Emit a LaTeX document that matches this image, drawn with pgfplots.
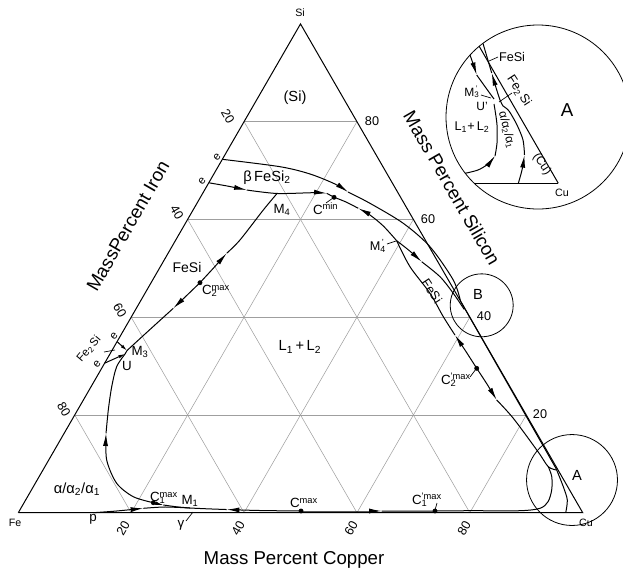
\documentclass[border=0pt]{standalone}
\usepackage{pgfplots}
\pgfplotsset{compat=1.18}
\usepackage{fontspec}
\setmainfont{Liberation Sans}
\usetikzlibrary{arrows.meta}
% ternary (mass % Cu = c, mass % Si = s) -> picture position
\pgfkeys{/pgfplots/table/tern/.style={/pgfplots/table/x expr=18.3+5.644*(\thisrow{c}+0.5*\thisrow{s}), /pgfplots/table/y expr=512.7-4.8878*\thisrow{s}}}
\tikzset{cur/.style={black, line width=0.75pt, smooth},
         arr/.style={cur, -{Latex[length=9.5pt,width=3.8pt]}},
         gridc/.style={gray!75, line width=0.4pt},
         lbl/.style={inner sep=0pt, outer sep=0pt}}
\newcommand{\fs}[1]{\fontsize{#1}{#1}\selectfont}
\newcommand{\sbp}[2]{\rlap{\textsuperscript{#2}}\textsubscript{#1}}
\newcommand{\gl}[4]{\addplot[gridc] table[row sep=\\,tern]{c s\\ #1 #2\\ #3 #4\\};}
\begin{document}
\begin{tikzpicture}
\begin{axis}[x=0.75pt, y=0.75pt, y dir=reverse, xmin=0, xmax=623, ymin=0, ymax=572,
  hide axis, clip=false]
% ---------- grid ----------
\gl{0}{20}{80}{20} \gl{0}{40}{60}{40} \gl{0}{60}{40}{60} \gl{0}{80}{20}{80}
\gl{20}{0}{20}{80} \gl{40}{0}{40}{60} \gl{60}{0}{60}{40} \gl{80}{0}{80}{20}
\gl{80}{0}{0}{80} \gl{60}{0}{0}{60} \gl{40}{0}{0}{40} \gl{20}{0}{0}{20}
% ---------- triangle ----------
\addplot[black, line width=0.75pt] table[row sep=\\,tern]{c s\\ 0 0\\ 100 0\\ 0 100\\ 0 0\\};
% ---------- upper e curve ----------
\addplot[arr] table[row sep=\\,tern]{c s\\ 0 72.3\\ 10.97 70.79\\ 17.03 69.30\\ 22.48 67.25\\ 25.61 65.61\\};
\addplot[cur] table[row sep=\\,tern]{c s\\ 25.61 65.61\\ 30.66 63.30\\ 38.60 59.21\\ 45.73 54.42\\ 53.26 47.61\\ 56.7 43.3\\};
\addplot[cur] table[row sep=\\,tern]{c s\\ 56.7 43.3\\ 91.0 8.8\\};
% ---------- lower e curve, M4, Cmin ----------
\addplot[arr] table[row sep=\\,tern]{c s\\ 0 67.5\\ 3.8 66.8\\ 7.46 66.02\\};
\addplot[arr] table[row sep=\\,tern]{c s\\ 7.46 66.02\\ 13.19 65.31\\ 19.53 65.47\\ 21.97 65.35\\};
\addplot[cur] table[row sep=\\,tern]{c s\\ 21.97 65.35\\ 23.68 64.53\\};
% M4' -> Cmin
\addplot[arr] table[row sep=\\,tern]{c s\\ 39.21 55.65\\ 35.34 58.66\\ 31.85 60.91\\ 29.10 62.28\\};
\addplot[cur] table[row sep=\\,tern]{c s\\ 29.10 62.28\\ 26.2 63.6\\ 23.68 64.53\\};
% M4' -> B
\addplot[arr] table[row sep=\\,tern]{c s\\ 39.21 55.65\\ 42.5 53.6\\ 45.79 51.35\\};
\addplot[cur] table[row sep=\\,tern]{c s\\ 45.79 51.35\\ 50.58 48.28\\ 54.62 44.89\\ 58.2 41.6\\};
% ---------- M4 - C2max - M3 ----------
\addplot[arr] table[row sep=\\,tern]{c s\\ 8.66 47.06\\ 9.6 50.2\\ 10.38 53.07\\};
\addplot[cur] table[row sep=\\,tern]{c s\\ 10.38 53.07\\ 11.38 55.80\\ 12.44 61.93\\ 13.19 65.31\\};
\addplot[arr] table[row sep=\\,tern]{c s\\ 8.66 47.06\\ 7.6 44.4\\ 6.55 41.82\\};
\addplot[cur] table[row sep=\\,tern]{c s\\ 6.55 41.82\\ 4.17 36.56\\ 2.67 33.18\\};
% Fe2Si e-lines
\addplot[cur, -{Latex[length=5pt,width=2.6pt]}] table[row sep=\\,tern]{c s\\ 0 35.0\\ 2.67 33.18\\};
\addplot[cur, -{Latex[length=5pt,width=2.6pt]}] table[row sep=\\,tern]{c s\\ 0 30.6\\ 2.68 32.47\\};
\addplot[cur] table[row sep=\\,tern]{c s\\ 2.67 33.18\\ 2.68 32.47\\};
% ---------- U -> C1max -> M1 ----------
\addplot[arr] table[row sep=\\,tern]{c s\\ 22.90 2.05\\ 18.74 3.27\\ 14.42 6.02\\ 10.27 10.78\\ 7.42 16.25\\};
\addplot[cur] table[row sep=\\,tern]{c s\\ 7.42 16.25\\ 5.44 21.01\\ 3.66 25.78\\ 2.49 29.87\\ 2.68 32.47\\};
\addplot[cur, -{Latex[length=6pt,width=2.8pt]}] table[row sep=\\,tern]{c s\\ 22.90 2.05\\ 24.90 1.58\\};
\addplot[cur] table[row sep=\\,tern]{c s\\ 24.90 1.58\\ 27.5 1.2\\ 29.94 0.96\\};
% p -> M1
\addplot[arr] table[row sep=\\,tern]{c s\\ 13.29 0\\ 17.26 0.35\\ 21.70 0.90\\};
\addplot[cur] table[row sep=\\,tern]{c s\\ 21.70 0.90\\ 25.41 1.17\\ 29.94 0.96\\};
% Cmax -> M1 and Cmax -> right, loop up to A
\addplot[arr] table[row sep=\\,tern]{c s\\ 49.92 0.35\\ 42.60 0.45\\ 36.60 0.65\\};
\addplot[cur] table[row sep=\\,tern]{c s\\ 36.60 0.65\\ 33.0 0.8\\ 29.94 0.96\\};
\addplot[arr] table[row sep=\\,tern]{c s\\ 49.92 0.35\\ 57.0 0.35\\ 64.21 0.35\\};
\addplot[cur] table[row sep=\\,tern]{c s\\ 64.21 0.35\\ 73.65 0.35\\ 79.83 0.41\\ 88.68 0.41\\ 91.98 0.90\\ 92.73 2.25\\ 92.18 4.65\\ 90.83 7.37\\ 89.20 9.41\\};
% ---------- M4' - C2'max - A ----------
\addplot[arr] table[row sep=\\,tern]{c s\\ 66.45 29.54\\ 62.8 33.0\\ 59.19 36.35\\};
\addplot[cur] table[row sep=\\,tern]{c s\\ 59.19 36.35\\ 55.25 40.10\\ 50.50 44.89\\ 44.23 50.33\\ 39.21 55.65\\};
\addplot[arr] table[row sep=\\,tern]{c s\\ 66.45 29.54\\ 69.9 26.3\\ 73.23 23.06\\};
\addplot[cur] table[row sep=\\,tern]{c s\\ 73.23 23.06\\ 78.04 19.32\\ 85.84 12.48\\ 89.20 9.41\\ 91.02 8.74\\};
% (Cu) boundary
\addplot[cur] table[row sep=\\,tern]{c s\\ 91.02 8.74\\ 93.90 5.32\\ 95.97 2.60\\ 96.99 0\\};
% ---------- special points ----------
\addplot[only marks, mark=*, mark size=1.6pt, black] table[row sep=\\,tern]{c s\\ 8.66 47.06\\ 23.68 64.53\\ 66.45 29.54\\ 22.90 2.05\\ 49.92 0.35\\ 73.65 0.35\\};
% ---------- circles ----------
\draw[line width=0.6pt] (axis cs:572,480) circle[radius=34.1pt];
\draw[line width=0.6pt] (axis cs:481.7,305.3) circle[radius=23.6pt];
\draw[line width=0.6pt] (axis cs:538,117) circle[radius=69pt];
% ---------- inset (magnified corner A) ----------
\addplot[black, line width=0.75pt] coordinates {(479.2,46.3) (558.3,183.3)};
\addplot[black, line width=0.75pt] coordinates {(474.2,183.3) (558.3,183.3)};
\addplot[arr] coordinates {(470,55) (473.5,65) (476.7,75)};
\addplot[cur] coordinates {(476.7,75) (486,88) (494,99)};
\addplot[arr] coordinates {(503,106) (500,100) (495.5,86) (491.7,73)};
\addplot[cur] coordinates {(491.7,73) (483,43.5)};
\addplot[arr] coordinates {(465,173.3) (478,170) (488,164) (495,156)};
\addplot[cur] coordinates {(495,156) (497,143) (497,125) (495,110) (494,104)};
\addplot[arr] coordinates {(518.3,183.3) (522,170) (524.5,155)};
\addplot[cur] coordinates {(524.5,155) (523,140) (517,125) (509,111) (503,106)};
\draw[line width=0.5pt] (axis cs:489,61) -- (axis cs:498,57);
\draw[line width=0.5pt] (axis cs:499,102) -- (axis cs:512,93);
\draw[line width=0.5pt] (axis cs:481,95) -- (axis cs:491,98);
\node[lbl, anchor=west, font=\fs{9.5}] at (axis cs:499,56.5) {FeSi};
\node[lbl, rotate=-57, font=\fs{9.5}] at (axis cs:519,91) {Fe\textsubscript{2}\,Si};
\node[lbl, font=\fs{9}] at (axis cs:472,92) {M\sbp{3}{\,'}};
\node[lbl, font=\fs{9}] at (axis cs:482,106) {U'};
\node[lbl, font=\fs{9.5}] at (axis cs:472,127) {L\textsubscript{1}+\,L\textsubscript{2}};
\node[lbl, rotate=-76, font=\fs{9}] at (axis cs:507,130) {α/α\textsubscript{2}/α\textsubscript{1}};
\node[lbl, rotate=-56, font=\fs{9}] at (axis cs:542,164) {(Cu)};
\node[lbl, font=\fs{14}] at (axis cs:567,110) {A};
\node[lbl, font=\fs{8}] at (axis cs:562,193) {Cu};
% ---------- small leaders ----------
\draw[line width=0.5pt] (axis cs:333,198) -- (axis cs:326,203);
\draw[line width=0.5pt] (axis cs:387,244) -- (axis cs:396,241);
\draw[line width=0.5pt] (axis cs:476,369) -- (axis cs:470,377);
\draw[line width=0.5pt] (axis cs:186,521) -- (axis cs:193,512);
\draw[line width=0.5pt] (axis cs:435,510) -- (axis cs:437,503);
\draw[line width=0.5pt] (axis cs:104,352) -- (axis cs:115,350);
% ---------- corner & axis labels ----------
\node[lbl, font=\fs{8}] at (axis cs:300,13) {Si};
\node[lbl, font=\fs{8}] at (axis cs:15,523) {Fe};
\node[lbl, font=\fs{8}] at (axis cs:586,523) {Cu};
\node[lbl, font=\fs{14}] at (axis cs:294,560) {Mass Percent Copper};
\node[lbl, rotate=-60, font=\fs{14}] at (axis cs:452,188) {Mass Percent Silicon};
\node[lbl, rotate=60, font=\fs{14}] at (axis cs:128,226) {MassPercent Iron};
% tick labels
\node[lbl, rotate=60, font=\fs{9.5}] at (axis cs:123,528) {20};
\node[lbl, rotate=60, font=\fs{9.5}] at (axis cs:238,528) {40};
\node[lbl, rotate=60, font=\fs{9.5}] at (axis cs:351,528) {60};
\node[lbl, rotate=60, font=\fs{9.5}] at (axis cs:464,528) {80};
\node[lbl, rotate=-60, font=\fs{9.5}] at (axis cs:228,116) {20};
\node[lbl, rotate=-60, font=\fs{9.5}] at (axis cs:177,212) {40};
\node[lbl, rotate=-60, font=\fs{9.5}] at (axis cs:120,310) {60};
\node[lbl, rotate=-60, font=\fs{9.5}] at (axis cs:64,409) {80};
\node[lbl, font=\fs{9.5}] at (axis cs:372,121) {80};
\node[lbl, font=\fs{9.5}] at (axis cs:428,219) {60};
\node[lbl, font=\fs{9.5}] at (axis cs:484,316) {40};
\node[lbl, font=\fs{9.5}] at (axis cs:540,414) {20};
% ---------- phase and point labels ----------
\node[lbl, font=\fs{11}] at (axis cs:295,98) {(Si)};
\node[lbl, font=\fs{11}] at (axis cs:267,178) {β\,FeSi\textsubscript{2}};
\node[lbl, font=\fs{10.5}] at (axis cs:187,267) {FeSi};
\node[lbl, font=\fs{11}] at (axis cs:300,347) {L\textsubscript{1}\,+\,L\textsubscript{2}};
\node[lbl, font=\fs{11}] at (axis cs:77,489) {α/α\textsubscript{2}/α\textsubscript{1}};
\node[lbl, rotate=50, font=\fs{8.5}] at (axis cs:89,349) {Fe\textsubscript{2}\,Si};
\node[lbl, rotate=-57, font=\fs{9.5}] at (axis cs:432,291) {FeSi};
\node[lbl, rotate=50, font=\fs{8.5}] at (axis cs:217,157) {e};
\node[lbl, rotate=50, font=\fs{8.5}] at (axis cs:202,181) {e};
\node[lbl, rotate=50, font=\fs{8.5}] at (axis cs:114,336) {e};
\node[lbl, rotate=50, font=\fs{8.5}] at (axis cs:97,364) {e};
\node[lbl, font=\fs{10}] at (axis cs:282,210) {M\textsubscript{4}};
\node[lbl, anchor=west, font=\fs{10}] at (axis cs:313,209) {C\textsuperscript{min}};
\node[lbl, anchor=west, font=\fs{10}] at (axis cs:202,291) {C\sbp{2}{max}};
\node[lbl, font=\fs{10}] at (axis cs:140,352) {M\textsubscript{3}};
\node[lbl, font=\fs{10}] at (axis cs:127,366) {U};
\node[lbl, font=\fs{9.5}] at (axis cs:378,246) {M\sbp{4}{\,'}};
\node[lbl, anchor=west, font=\fs{10}] at (axis cs:441,380) {C\sbp{2}{'max}};
\node[lbl, font=\fs{11}] at (axis cs:478,294) {B};
\node[lbl, font=\fs{11}] at (axis cs:577,475) {A};
\node[lbl, anchor=west, font=\fs{10}] at (axis cs:150,498) {C\sbp{1}{max}};
\node[lbl, font=\fs{10}] at (axis cs:190,501) {M\textsubscript{1}};
\node[lbl, font=\fs{10}] at (axis cs:181,525) {γ};
\node[lbl, font=\fs{10}] at (axis cs:93,519) {p};
\node[lbl, anchor=west, font=\fs{10}] at (axis cs:290,503) {C\textsuperscript{max}};
\node[lbl, anchor=west, font=\fs{10}] at (axis cs:412,500) {C\sbp{1}{'max}};
\end{axis}
\pgfresetboundingbox
\path[use as bounding box] (current axis.south west) rectangle (current axis.north east);
\end{tikzpicture}
\end{document}
